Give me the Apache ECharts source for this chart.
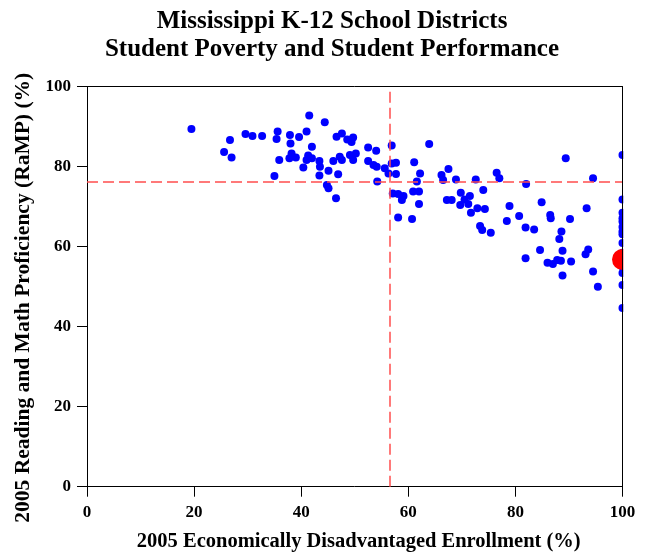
<!DOCTYPE html>
<html>
<head>
<meta charset="utf-8">
<script src="https://cdn.jsdelivr.net/npm/echarts@6/dist/echarts.min.js"></script>
<style>html,body{margin:0;padding:0;background:#fff}#c{width:647px;height:554px}</style>
</head>
<body>
<div id="c"></div>
<script>
// 2005 Economically Disadvantaged Enrollment (%)
const povertyPct = [
  19.5,26.7,25.6,27.0,29.6,30.9,32.7,35.6,35.4,35.9,35.0,37.9,38.0,38.2,37.8,39.0,39.6,41.0,41.5,42.0,
  41.3,41.0,42.0,40.4,43.4,43.5,43.4,44.4,45.1,44.8,45.1,46.5,46.0,46.9,46.6,47.6,47.2,47.6,48.6,49.7,
  49.4,49.1,50.2,49.7,52.5,54.0,52.5,53.5,54.1,54.2,55.6,56.3,56.9,56.9,57.7,57.7,57.1,58.1,59.1,58.8,
  58.1,60.7,61.1,62.2,61.6,60.9,62.0,62.0,63.9,66.2,66.5,67.5,67.2,68.1,68.9,72.6,69.8,70.5,71.2,69.7,
  71.5,71.7,72.9,74.0,74.3,73.4,73.8,75.4,76.5,77.0,82.0,89.4,94.5,78.9,78.4,80.7,81.9,83.5,84.9,86.5,
  86.6,90.2,88.6,88.2,93.3,84.6,88.8,93.6,93.1,81.9,86.0,87.0,87.8,88.5,90.4,88.8,94.5,95.4,
  100,100,100,100,100,100,100,100,100,100,100,100,100,100
];
// 2005 Reading and Math Proficiency (RaMP) (%)
const rampPct = [
  89.4,86.7,83.7,82.3,88.2,87.7,87.7,88.8,86.9,81.7,77.7,87.9,85.8,83.3,82.1,82.3,87.4,88.8,92.8,85.0,
  82.8,81.7,82.1,79.8,81.4,80.0,77.8,91.1,79.0,75.4,74.6,72.1,81.4,78.1,87.5,88.3,82.5,81.7,86.8,87.3,
  86.2,82.9,83.3,81.7,84.8,84.0,81.4,80.4,80.0,76.3,79.6,78.3,85.3,80.8,81.0,78.2,73.3,73.2,72.7,71.7,
  67.3,66.9,81.1,78.3,76.3,73.8,73.8,70.7,85.7,77.9,76.7,79.4,71.7,71.7,76.8,76.8,73.5,71.8,70.7,70.4,
  72.7,68.5,69.6,74.2,69.4,65.2,64.2,63.5,78.5,77.1,75.7,82.1,77.1,70.2,66.4,67.7,64.8,64.3,71.1,67.9,
  67.1,66.9,63.8,61.9,69.6,59.2,59.0,59.3,58.1,57.1,56.0,55.7,56.7,56.5,56.3,52.8,53.8,50.0,
  82.9,71.8,68.5,67.1,66.3,64.9,63.8,63.1,60.9,58.5,55.0,53.4,50.4,44.7
];
// highlighted district
const focusPoverty = [100];
const focusRamp = [56.8];
// state reference lines
const refPoverty = 56.45;
const refRamp = 76.25;
// axis ticks
const xTicks = [0, 20, 40, 60, 80, 100];
const yTicks = [0, 20, 40, 60, 80, 100];

const districts = povertyPct.map((p, i) => [p, rampPct[i]]);
const focus = focusPoverty.map((p, i) => [p, focusRamp[i]]);

const G = {left: 87, right: 24.5, top: 86.7, bottom: 67.3};
const W = 647, H = 554;
const serif = '"Liberation Serif", "Times New Roman", serif';

const chart = echarts.init(document.getElementById('c'), null, {renderer: 'canvas'});
chart.setOption({
  animation: false,
  backgroundColor: '#fff',
  title: {
    text: 'Mississippi K-12 School Districts\nStudent Poverty and Student Performance',
    left: 327, top: 3, textAlign: 'center',
    textStyle: {fontFamily: serif, fontWeight: 'bold', fontSize: 25, lineHeight: 28, color: '#000'}
  },
  grid: {left: G.left, right: G.right, top: G.top, bottom: G.bottom, containLabel: false, outerBoundsMode: 'none'},
  graphic: {
    elements: [{
      type: 'rect', zlevel: 1, z: 5, silent: true,
      shape: {x: W - G.right + 0.8, y: G.top - 12, width: G.right + 2, height: H - G.top - G.bottom + 12},
      style: {fill: '#fff'}
    }]
  },
  xAxis: [{
    type: 'value', min: xTicks[0], max: xTicks[xTicks.length - 1], interval: 20,
    name: '2005 Economically Disadvantaged Enrollment (%)',
    nameLocation: 'middle', nameGap: 45,
    nameTextStyle: {fontFamily: serif, fontWeight: 'bold', fontSize: 20.5, color: '#000', padding: [0, 0, 0, 8]},
    axisLine: {show: true, onZero: false, lineStyle: {color: '#000', width: 1}},
    axisTick: {show: true, length: 10, lineStyle: {color: '#000'}},
    axisLabel: {fontFamily: serif, fontWeight: 'bold', fontSize: 17, color: '#000', margin: 17.5},
    splitLine: {show: false}
  }, {
    type: 'value', position: 'top', min: 0, max: 100, zlevel: 1, z: 10,
    axisLine: {show: true, onZero: false, lineStyle: {color: '#000', width: 1}},
    axisTick: {show: false}, axisLabel: {show: false}, splitLine: {show: false}
  }],
  yAxis: [{
    type: 'value', min: yTicks[0], max: yTicks[yTicks.length - 1], interval: 20,
    name: '2005 Reading and Math Proficiency (RaMP) (%)',
    nameLocation: 'middle', nameGap: 50,
    nameTextStyle: {fontFamily: serif, fontWeight: 'bold', fontSize: 21.5, color: '#000', padding: [0, 22, 0, 0]},
    axisLine: {show: true, onZero: false, lineStyle: {color: '#000', width: 1}},
    axisTick: {show: true, length: 10, lineStyle: {color: '#000'}},
    axisLabel: {fontFamily: serif, fontWeight: 'bold', fontSize: 17, color: '#000', margin: 16},
    splitLine: {show: false}
  }, {
    type: 'value', position: 'right', min: 0, max: 100, zlevel: 1, z: 10,
    axisLine: {show: true, onZero: false, lineStyle: {color: '#000', width: 1}},
    axisTick: {show: false}, axisLabel: {show: false}, splitLine: {show: false}
  }],
  series: [{
    type: 'scatter', data: districts, symbolSize: 8, z: 3,
    itemStyle: {color: '#0000ff', opacity: 1},
    markLine: {
      silent: true, symbol: 'none', label: {show: false}, animation: false,
      lineStyle: {color: '#ff4d4d', width: 1.5, type: [11, 5]},
      data: [{xAxis: refPoverty}, {yAxis: refRamp}]
    }
  }, {
    type: 'scatter', data: focus, symbolSize: 21, z: 4,
    itemStyle: {color: '#ff0000', opacity: 1}
  }]
});
</script>
</body>
</html>
